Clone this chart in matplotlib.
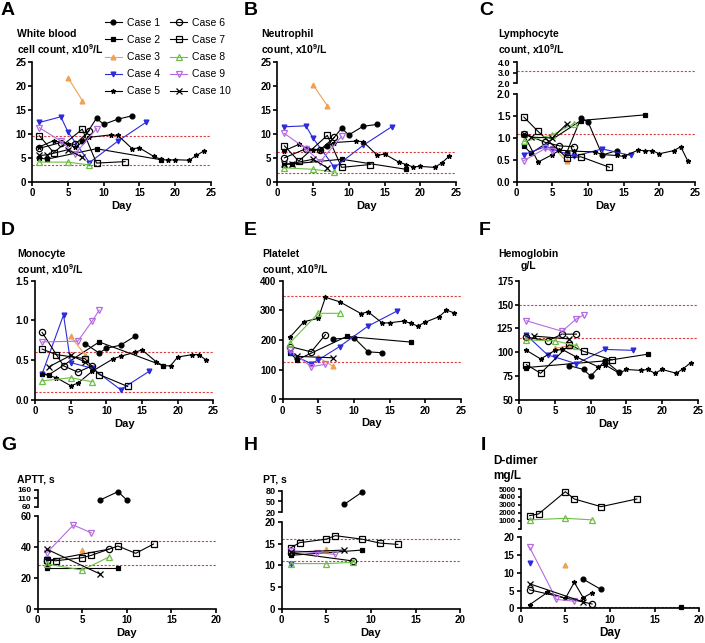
import matplotlib
matplotlib.use("Agg")
import matplotlib.pyplot as plt

plt.rcParams['font.family'] = ['Liberation Sans', 'DejaVu Sans']
plt.rcParams['mathtext.fontset'] = 'custom'
plt.rcParams['mathtext.rm'] = 'Liberation Sans'
plt.rcParams['mathtext.bf'] = 'Liberation Sans:bold'

W, H = 705, 643

# ---- data (day, value) per case ----
case5_days = [1, 3, 5, 6, 8, 11, 12, 14, 15, 17, 18, 19, 20, 22, 23, 24]

wbc = {
    1: ([7, 9, 10, 12, 14], [8.6, 13.3, 12.0, 13.1, 13.8]),
    2: ([1, 2, 9, 18], [5.0, 4.7, 6.9, 4.6]),
    3: ([5, 7], [21.8, 17.0]),
    4: ([1, 4, 5, 8, 12, 16], [12.4, 13.6, 10.4, 4.0, 8.5, 12.5]),
    5: (case5_days, [7.3, 8.6, 7.8, 7.2, 9.3, 9.8, 9.7, 6.9, 7.1, 5.3, 4.7, 4.5, 4.6, 4.5, 5.5, 6.4]),
    6: ([1, 4, 6, 8], [7.0, 8.2, 7.8, 10.7]),
    7: ([1, 3, 7, 9, 13], [9.6, 6.1, 11.0, 3.9, 4.2]),
    8: ([1, 5, 8], [4.1, 4.1, 3.5]),
    9: ([1, 4, 6, 9], [11.3, 8.5, 5.8, 11.1]),
    10: ([1, 2, 5, 7], [5.5, 5.6, 6.7, 5.1]),
}
neut = {
    1: ([7, 9, 10, 12, 14], [7.5, 11.2, 9.8, 11.6, 12.0]),
    2: ([1, 2, 9, 18], [3.6, 3.7, 4.7, 2.6]),
    3: ([5, 7], [20.3, 15.9]),
    4: ([1, 4, 5, 8, 12, 16], [11.5, 11.7, 9.1, 3.0, 7.6, 11.5]),
    5: (case5_days, [6.5, 7.8, 6.6, 6.7, 8.2, 8.5, 8.4, 5.5, 5.8, 4.1, 3.6, 3.1, 3.2, 3.0, 3.9, 5.3]),
    6: ([1, 4, 6, 8], [5.0, 6.9, 6.7, 9.3]),
    7: ([1, 3, 7, 9, 13], [7.5, 4.3, 9.7, 3.0, 3.6]),
    8: ([1, 5, 8], [2.9, 2.6, 2.0]),
    9: ([1, 4, 6, 9], [10.1, 6.9, 4.2, 9.5]),
    10: ([1, 2, 5, 7], [3.7, 3.8, 4.7, 2.9]),
}
lymph = {
    1: ([7, 9, 10, 12, 14], [0.66, 1.45, 1.37, 0.61, 0.71]),
    2: ([1, 2, 9, 18], [0.82, 0.65, 1.40, 1.53]),
    3: ([5, 7], [0.80, 0.47]),
    4: ([1, 4, 5, 8, 12, 16], [0.62, 0.80, 0.75, 0.58, 0.75, 0.60]),
    5: (case5_days, [1.08, 0.45, 0.62, 0.72, 0.70, 0.68, 0.62, 0.60, 0.58, 0.72, 0.71, 0.71, 0.64, 0.71, 0.80, 0.47]),
    6: ([1, 4, 6, 8], [1.10, 0.90, 0.82, 0.80]),
    7: ([1, 3, 7, 9, 13], [1.48, 1.15, 0.55, 0.57, 0.33]),
    8: ([1, 5, 8], [0.92, 1.07, 1.33]),
    9: ([1, 4, 5], [0.48, 0.76, 0.70]),
    10: ([1, 2, 5, 7], [1.10, 1.02, 1.00, 1.32]),
}
mono = {
    1: ([7, 9, 10, 12, 14], [0.71, 0.59, 0.65, 0.69, 0.80]),
    2: ([1, 2, 9, 18], [0.33, 0.32, 0.73, 0.43]),
    3: ([5, 7], [0.80, 0.57]),
    4: ([1, 4, 5, 8, 12, 16], [0.33, 1.07, 0.47, 0.40, 0.13, 0.36]),
    5: (case5_days, [0.33, 0.28, 0.18, 0.21, 0.36, 0.52, 0.55, 0.60, 0.63, 0.48, 0.43, 0.43, 0.54, 0.57, 0.57, 0.50]),
    6: ([1, 4, 6, 8], [0.85, 0.43, 0.35, 0.43]),
    7: ([1, 3, 7, 9, 13], [0.64, 0.57, 0.52, 0.32, 0.17]),
    8: ([1, 5, 8], [0.24, 0.28, 0.23]),
    9: ([1, 6, 8, 9], [0.73, 0.74, 0.99, 1.13]),
    10: ([2, 5, 7], [0.42, 0.56, 0.48]),
}
plt_count = {
    1: ([7, 10, 12, 14], [203, 208, 160, 157]),
    2: ([1, 2, 9, 18], [157, 133, 212, 193]),
    3: ([5, 7], [142, 112]),
    4: ([1, 4, 5, 8, 12, 16], [155, 120, 133, 178, 247, 297]),
    5: (case5_days, [209, 262, 273, 344, 329, 289, 295, 257, 258, 264, 256, 247, 260, 279, 301, 292]),
    6: ([1, 4, 6], [178, 160, 218]),
    8: ([1, 5, 8], [190, 290, 290]),
    9: ([1, 4, 6], [165, 110, 118]),
    10: ([2, 7], [145, 140]),
}
hgb = {
    1: ([7, 9, 10, 12, 14], [86, 82, 75, 91, 79]),
    2: ([1, 12, 18], [84, 91, 98]),
    3: ([5, 7], [104, 107]),
    4: ([1, 4, 5, 8, 12, 16], [118, 97, 95, 88, 103, 102]),
    5: (case5_days, [102, 93, 102, 103, 95, 85, 87, 78, 82, 81, 82, 78, 82, 78, 83, 89]),
    6: ([1, 4, 6, 8], [116, 112, 119, 119]),
    7: ([1, 3, 7, 9, 13], [87, 78, 108, 101, 92]),
    8: ([1, 5, 8], [113, 112, 107]),
    9: ([1, 6, 8, 9], [133, 122, 135, 139]),
    10: ([2, 7], [117, 114]),
}
aptt = {
    1: ([7, 9, 10], [100, 150, 100]),
    2: ([1, 9], [26.5, 26.5]),
    3: ([5], [38]),
    4: ([1], [32]),
    6: ([1, 8], [31, 38.5]),
    7: ([1, 2, 5, 6, 9, 11, 13], [31.7, 31.0, 33.0, 34.5, 40.5, 35.8, 41.8]),
    8: ([1, 5, 8], [29, 25, 33.5]),
    9: ([1, 4, 6], [36, 54, 49]),
    10: ([1, 7], [38.5, 22.5]),
}
pt = {
    1: ([7, 9], [42, 76]),
    2: ([1, 9], [12.3, 13.5]),
    3: ([5], [13.8]),
    4: ([1], [10.4]),
    6: ([1, 8], [12.9, 11.0]),
    7: ([1, 2, 5, 6, 9, 11, 13], [14.0, 15.2, 16.0, 16.8, 16.0, 15.1, 14.8]),
    8: ([1, 5, 8], [10.4, 10.4, 10.7]),
    9: ([1, 4, 6], [13.4, 12.9, 12.5]),
    10: ([1, 7], [13.0, 13.5]),
}
ddimer = {
    1: ([7, 9], [8.2, 5.3]),
    2: ([18], [0.3]),
    3: ([5], [12.3]),
    4: ([1], [12.7]),
    5: ([1, 3, 5, 6, 7, 8], [1.0, 4.5, 2.8, 7.3, 3.0, 4.4]),
    6: ([1, 8], [5.2, 1.2]),
    7: ([1, 2, 5, 6, 9, 13], [1640, 1850, 4660, 3740, 2770, 3740]),
    8: ([1, 5, 8], [1100, 1300, 1100]),
    9: ([1, 4, 6], [17.2, 2.5, 2.0]),
    10: ([1, 7], [6.9, 1.8]),
}

orange = '#F0A050'
blue = '#2B2BDB'
green = '#6DBE45'
purple = '#B46BE0'
styles = {
    1: dict(color='black', marker='o', ms=3.5, mfc='black'),
    2: dict(color='black', marker='s', ms=3.5, mfc='black'),
    3: dict(color=orange, marker='^', ms=3.5, mfc=orange),
    4: dict(color=blue, marker='v', ms=3.5, mfc=blue),
    5: dict(color='black', marker='*', ms=3.5, mfc='black'),
    6: dict(color='black', marker='o', ms=4.5, mfc='none'),
    7: dict(color='black', marker='s', ms=4.5, mfc='none'),
    8: dict(color=green, marker='^', ms=4.5, mfc='none'),
    9: dict(color=purple, marker='v', ms=4.5, mfc='none'),
    10: dict(color='black', marker='x', ms=4, mfc='black'),
}

fig = plt.figure(figsize=(W / 100, H / 100), dpi=100)


def box(x0, x1, ytop, ybot):
    return [x0 / W, 1 - ybot / H, (x1 - x0) / W, (ybot - ytop) / H]


def style_ax(ax, bottom=True, size=7):
    for s in ['top', 'right']:
        ax.spines[s].set_visible(False)
    ax.spines['left'].set_linewidth(1.2)
    ax.spines['bottom'].set_linewidth(1.2)
    ax.tick_params(width=1.2, length=3, labelsize=size, pad=1.5)
    for lab in ax.get_xticklabels() + ax.get_yticklabels():
        lab.set_fontweight('bold')
    if not bottom:
        ax.spines['bottom'].set_visible(False)
        ax.tick_params(axis='x', bottom=False, labelbottom=False)


def draw(ax, data, refs, xmax, lo=None, hi=None):
    lines = []
    for c, (d, v) in data.items():
        if lo is not None:
            pts = [(x, y) for x, y in zip(d, v) if lo <= y <= hi]
            if not pts:
                continue
            d, v = zip(*pts)
        st = styles[c]
        ln, = ax.plot(d, v, color=st['color'], marker=st['marker'], ms=st['ms'],
                      mfc=st['mfc'], mec=st['color'], mew=0.9, lw=0.8, zorder=3,
                      label=f'Case {c}', clip_on=False)
        lines.append(ln)
    for r in refs:
        ax.axhline(r, color='#D94040', lw=0.8, ls=(0, (2, 1.5)), zorder=1)
    ax.set_xlim(0, xmax)
    return lines


def ylab(x, y, s, size=7.5):
    fig.text(x / W, 1 - y / H, s, fontsize=size, fontweight='bold', va='top',
             ha='left', linespacing=1.3)


def letter(x, y, s):
    fig.text(x / W, 1 - y / H, s, fontsize=14, fontweight='bold', va='top', ha='left')


# A
axA = fig.add_axes(box(32.3, 210.7, 62.3, 181.7))
handles = draw(axA, wbc, [9.5, 3.5], 25)
axA.set_ylim(0, 25)
axA.set_yticks([0, 5, 10, 15, 20, 25])
axA.set_xticks([0, 5, 10, 15, 20, 25])
axA.set_xlabel('Day', fontsize=8, fontweight='bold', labelpad=2)
style_ax(axA)

# B
axB = fig.add_axes(box(277.3, 456, 62.3, 181.7))
draw(axB, neut, [6.3, 1.8], 25)
axB.set_ylim(0, 25)
axB.set_yticks([0, 5, 10, 15, 20, 25])
axB.set_xticks([0, 5, 10, 15, 20, 25])
axB.set_xlabel('Day', fontsize=8, fontweight='bold', labelpad=2)
style_ax(axB)

# C (broken axis)
axC2 = fig.add_axes(box(516.7, 695, 62.3, 83.3))
draw(axC2, lymph, [3.2], 25, 2.0, 4.0)
axC2.set_ylim(2.0, 4.0)
axC2.set_yticks([2.0, 3.0, 4.0])
axC2.set_yticklabels(['2.0', '3.0', '4.0'])
style_ax(axC2, bottom=False, size=6.5)
axC = fig.add_axes(box(516.7, 695, 94.3, 181.7))
draw(axC, lymph, [1.1], 25)
axC.set_ylim(0, 2.0)
axC.set_yticks([0, 0.5, 1.0, 1.5, 2.0])
axC.set_yticklabels(['0.0', '0.5', '1.0', '1.5', '2.0'])
axC.set_xticks([0, 5, 10, 15, 20, 25])
axC.set_xlabel('Day', fontsize=8, fontweight='bold', labelpad=2)
style_ax(axC)

# D
axD = fig.add_axes(box(35, 213.3, 280.7, 400))
draw(axD, mono, [0.6, 0.1], 25)
axD.set_ylim(0, 1.5)
axD.set_yticks([0, 0.5, 1.0, 1.5])
axD.set_yticklabels(['0.0', '0.5', '1.0', '1.5'])
axD.set_xticks([0, 5, 10, 15, 20, 25])
axD.set_xlabel('Day', fontsize=8, fontweight='bold', labelpad=2)
style_ax(axD)

# E
axE = fig.add_axes(box(282.7, 460.7, 280.7, 399.3))
draw(axE, plt_count, [350, 125], 25)
axE.set_ylim(0, 400)
axE.set_yticks([0, 100, 200, 300, 400])
axE.set_xticks([0, 5, 10, 15, 20, 25])
axE.set_xlabel('Day', fontsize=8, fontweight='bold', labelpad=2)
style_ax(axE)

# F
axF = fig.add_axes(box(519.3, 697.7, 280.7, 400))
draw(axF, hgb, [150, 115], 25)
axF.set_ylim(50, 175)
axF.set_yticks([50, 75, 100, 125, 150, 175])
axF.set_xticks([0, 5, 10, 15, 20, 25])
axF.set_xlabel('Day', fontsize=8, fontweight='bold', labelpad=2)
style_ax(axF)

# G (broken axis)
axG2 = fig.add_axes(box(37.7, 216, 490, 506.7))
draw(axG2, aptt, [], 20, 60, 160)
axG2.set_ylim(60, 160)
axG2.set_yticks([60, 110, 160])
style_ax(axG2, bottom=False, size=6)
axG = fig.add_axes(box(37.7, 216, 515.7, 609))
draw(axG, aptt, [43.5, 28], 20, 0, 60)
axG.set_ylim(0, 60)
axG.set_yticks([0, 20, 40, 60])
axG.set_xticks([0, 5, 10, 15, 20])
axG.set_xlabel('Day', fontsize=8, fontweight='bold', labelpad=2)
style_ax(axG)

# H (broken axis)
axH2 = fig.add_axes(box(281.7, 460.3, 490.7, 512.3))
draw(axH2, pt, [], 20, 20, 80)
axH2.set_ylim(20, 80)
axH2.set_yticks([20, 50, 80])
style_ax(axH2, bottom=False, size=6.5)
axH = fig.add_axes(box(281.7, 460.3, 521.7, 609))
draw(axH, pt, [16, 11], 20, 0, 20)
axH.set_ylim(0, 20)
axH.set_yticks([0, 5, 10, 15, 20])
axH.set_xticks([0, 5, 10, 15, 20])
axH.set_xlabel('Day', fontsize=8, fontweight='bold', labelpad=2)
style_ax(axH)

# I (broken axis)
axI2 = fig.add_axes(box(520.7, 699.3, 489, 528.6))
draw(axI2, ddimer, [], 20, 100, 5000)
axI2.set_ylim(0, 5000)
axI2.set_yticks([0, 1000, 2000, 3000, 4000, 5000])
axI2.set_yticklabels(['', '1000', '2000', '3000', '4000', '5000'])
style_ax(axI2, bottom=False, size=5.6)
axI2.tick_params(axis='y', length=2.5, pad=1)
axI = fig.add_axes(box(520.7, 699.3, 537.3, 608.3))
draw(axI, ddimer, [0.5], 20, 0, 20)
axI.set_ylim(0, 20)
axI.set_yticks([0, 5, 10, 15, 20])
axI.set_xticks([0, 5, 10, 15, 20])
axI.set_xlabel('Day', fontsize=8.5, fontweight='bold', labelpad=2)
style_ax(axI)

# y-axis titles
ylab(17, 29, 'White blood\ncell count, x10$^{\\mathbf{9}}$/L')
ylab(261, 29, 'Neutrophil\ncount, x10$^{\\mathbf{9}}$/L')
ylab(498, 29, 'Lymphocyte\ncount, x10$^{\\mathbf{9}}$/L')
ylab(17, 249, 'Monocyte\ncount, x10$^{\\mathbf{9}}$/L')
ylab(262, 249, 'Platelet\ncount, x10$^{\\mathbf{9}}$/L')
fig.text(498 / W, 1 - 249 / H, 'Hemoglobin\ng/L', fontsize=7.5, fontweight='bold',
         va='top', ha='left', multialignment='center', linespacing=1.3)
ylab(17, 474, 'APTT, s')
ylab(263, 475, 'PT, s')
ylab(493, 455, 'D-dimer\nmg/L', size=8.5)

# panel letters
letter(1, 2, 'A')
letter(244, 2, 'B')
letter(479, 2, 'C')
letter(1, 222, 'D')
letter(244, 222, 'E')
letter(479, 222, 'F')
letter(1, 437, 'G')
letter(244, 437, 'H')
letter(481, 437, 'I')

fig.legend(handles, [h.get_label() for h in handles], loc='upper left',
           bbox_to_anchor=(105 / W, 1 - 18 / H), ncol=2, frameon=False,
           fontsize=7.5, handlelength=1.6, handletextpad=0.5, columnspacing=1.0,
           labelspacing=0.68, borderaxespad=0, borderpad=0)

fig.savefig('out.png', dpi=100)
